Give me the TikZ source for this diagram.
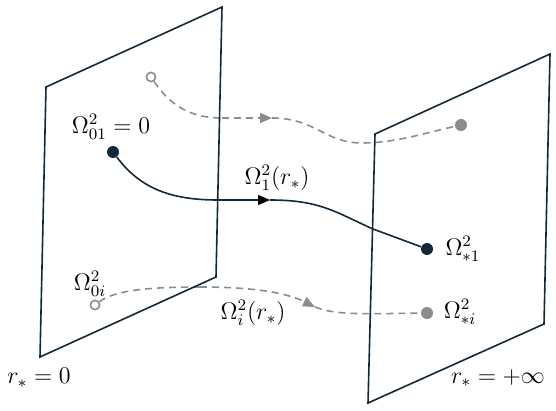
\documentclass[tikz,border=0pt]{standalone}
\usetikzlibrary{arrows.meta}
\definecolor{navy}{RGB}{18,40,55}
\definecolor{mygray}{RGB}{140,140,140}
\tikzset{
  plane/.style={draw=navy, line width=0.8pt, line join=miter},
  solidpath/.style={draw=navy, line width=0.8pt},
  dashpath/.style={draw=mygray, line width=0.8pt, dash pattern=on 3.5pt off 2.5pt},
  soltip/.style={-{Triangle[length=6pt,width=5pt,fill=black,color=black]}},
  dashtip/.style={-{Triangle[length=6pt,width=5pt,fill=mygray,color=mygray]}},
  fulldot/.style={circle, fill=navy, inner sep=0pt, minimum size=6pt},
  graydot/.style={circle, fill=mygray, inner sep=0pt, minimum size=6pt},
  opendot/.style={circle, draw=mygray, line width=0.8pt, fill=white, inner sep=0pt, minimum size=4.6pt},
  lbl/.style={inner sep=0pt, font=\fontsize{12}{14}\selectfont}
}
\begin{document}
\begin{tikzpicture}[x=0.5pt, y=-0.5pt]
\useasboundingbox (0,0) rectangle (556,411);
% coordinates along paths
\coordinate (t1) at (222,118);
\coordinate (ta) at (272,118);
\coordinate (tm) at (362,143);
\coordinate (s1) at (218,200);
\coordinate (sa) at (270,200);
\coordinate (sm) at (373,229);
\coordinate (b1) at (200,287);
\coordinate (ba) at (315,307);
% dots
\node[opendot] (a0) at (151,77) {};
\node[graydot] (a1) at (461,125) {};
\node[fulldot] (s0) at (113,152) {};
\node[fulldot] (s2) at (427,249) {};
\node[opendot] (b0) at (95,305) {};
\node[graydot] (b2) at (427,313) {};
% top dashed path
\draw[dashpath] (a0) .. controls (170,105) and (190,118) .. (t1);
\draw[dashpath, dashtip] (t1) -- (ta);
\draw[dashpath] (ta) .. controls (315,118) and (325,143) .. (tm) .. controls (395,143) and (425,133) .. (a1);
% solid path
\draw[solidpath] (s0) .. controls (140,188) and (170,200) .. (s1);
\draw[solidpath, soltip] (s1) -- (sa);
\draw[solidpath] (sa) .. controls (320,200) and (335,212) .. (sm) -- (s2);
% bottom dashed path
\draw[dashpath] (b0) .. controls (115,290) and (150,287) .. (b1);
\draw[dashpath, dashtip] (b1) .. controls (250,287) and (285,292) .. (ba);
\draw[dashpath] (ba) .. controls (335,315) and (360,314) .. (b2);
% planes
\draw[plane] (46,87) -- (222,7) -- (216,277) -- (40,357) -- cycle;
\draw[plane] (375,134) -- (550,54) -- (544,324) -- (368,403) -- cycle;
% labels
\node[lbl] (l1) at (111,127) {$\Omega^2_{01}=0$};
\node[lbl] (l2) at (277,178) {$\Omega^2_{1}(r_*)$};
\node[lbl] (l3) at (463,249) {$\Omega^2_{*1}$};
\node[lbl] (l4) at (90,284) {$\Omega^2_{0i}$};
\node[lbl] (l5) at (253,313) {$\Omega^2_{i}(r_*)$};
\node[lbl] (l6) at (460,312) {$\Omega^2_{*i}$};
\node[lbl] (l7) at (39,378) {$r_*=0$};
\node[lbl] (l8) at (498,378) {$r_*=+\infty$};
\end{tikzpicture}
\end{document}
